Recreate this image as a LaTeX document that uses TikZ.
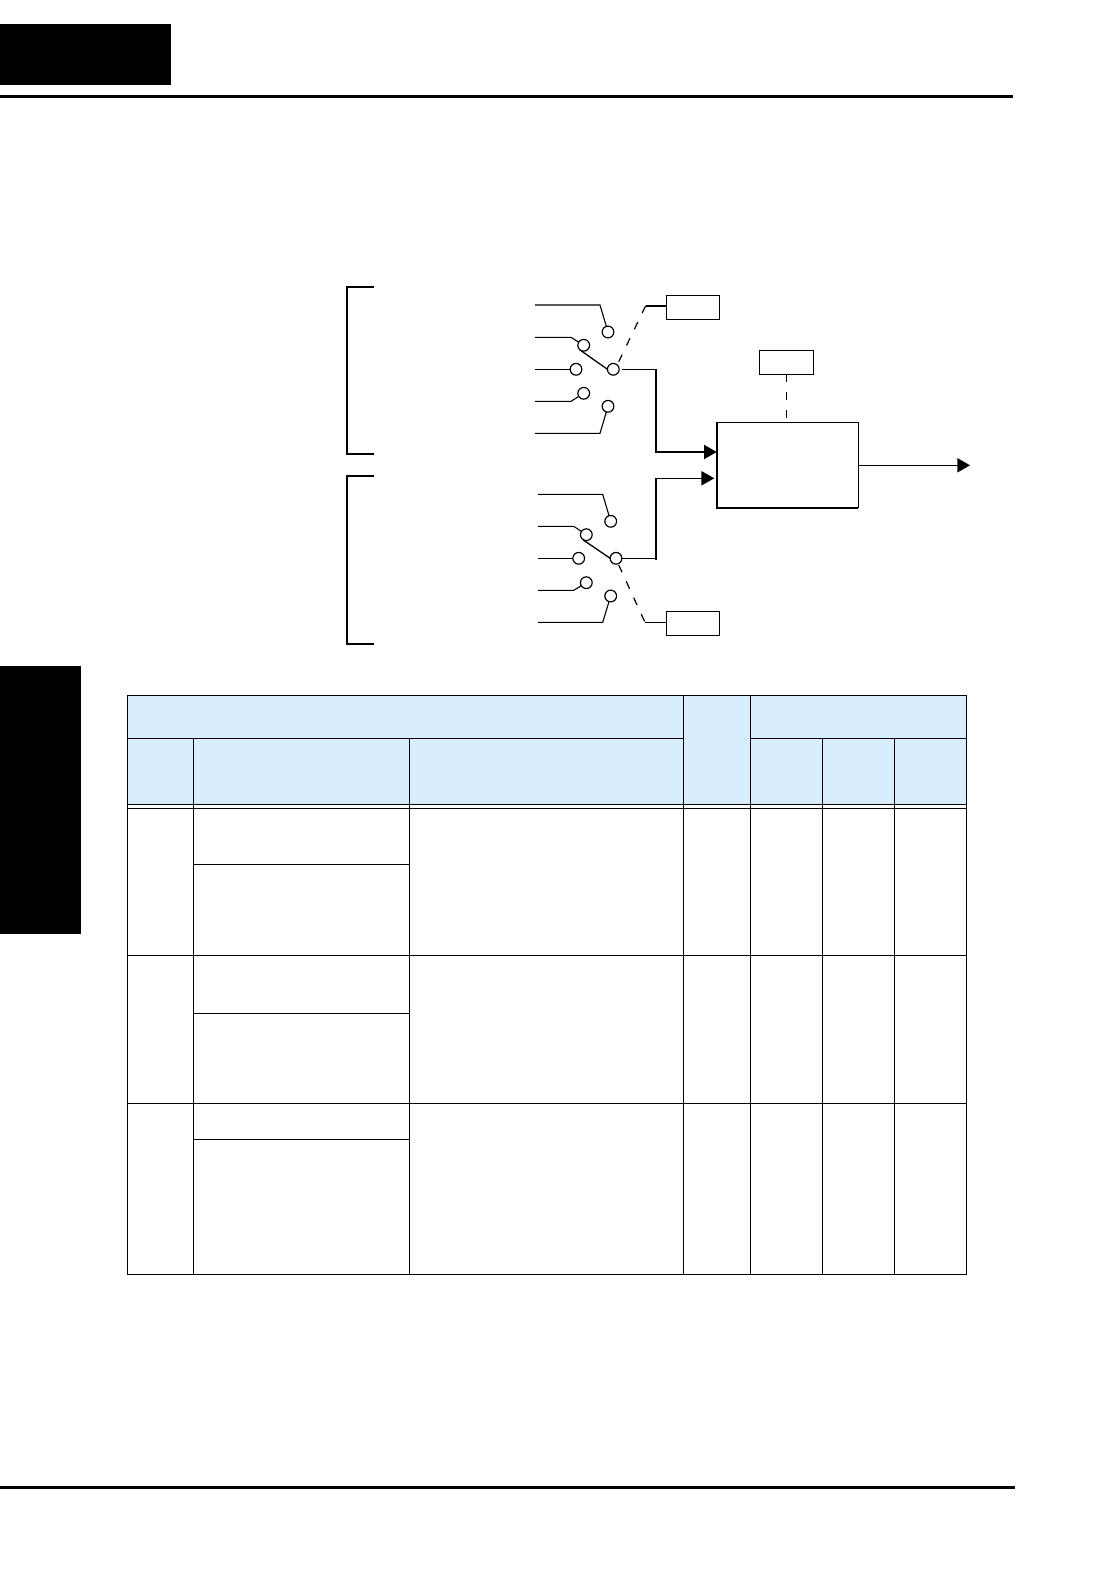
\documentclass[tikz,border=0pt]{standalone}
\usepackage{tikz}
\definecolor{hdrblue}{HTML}{D8EEFF}
\tikzset{
  x=0.75pt,y=-0.75pt,
  px/.style={line width=#1*0.75pt},
  wire/.style={px=1.1,draw=black,line join=miter},
  thickwire/.style={px=2,draw=black},
  dashwire/.style={px=1.2,draw=black,dash pattern=on 6pt off 7.5pt},
  contact/.style={circle,draw=black,fill=white,px=1.2,minimum size=8.8pt,inner sep=0pt,outer sep=0pt},
  selbox/.style={rectangle,draw=black,px=1,minimum width=40pt,minimum height=18pt,inner sep=0pt,outer sep=0pt,anchor=north west},
  tip/.style={fill=black,draw=none},
  gridline/.style={px=1,draw=black,line cap=rect},
  brk/.style={draw=black,line join=miter}
}
\begin{document}
\begin{tikzpicture}
\useasboundingbox (0,0) rectangle (1120,1584);
\fill[white] (0,0) rectangle (1120,1584);
% page furniture
\fill[black] (0,24) rectangle (171,85);
\fill[black] (0,95) rectangle (1013,98.2);
\fill[black] (0,666) rectangle (81,934);
\fill[black] (0,1485.8) rectangle (1015,1489);

% brackets
\draw[brk,px=2] (374,286.7) -- (346.7,286.7) -- (346.7,454);
\draw[brk,px=1.4] (346,454) -- (374,454);
\draw[brk,px=2] (374,475.7) -- (346.7,475.7) -- (346.7,643.7) -- (374,643.7);

% main block
\node[rectangle,draw=black,px=1.3,anchor=north west,minimum width=106.2pt,minimum height=64pt,inner sep=0pt,outer sep=0pt] (blk) at (716.7,422.3) {};
\draw[black,px=2] (blk.north west) -- (blk.south west) -- (blk.south east);
\node[selbox,minimum width=40.5pt] (sel) at (759.3,350.3) {};
\node[selbox] (selA) at (666.3,295.3) {};
\node[selbox] (selB) at (666.3,611.3) {};

% upper selector
\foreach \n/\yy in {a/305,b/337.3,c/369.3,d/401.3,e/433.3}{\coordinate (u\n) at (535,\yy);}
\node[contact] (uc1) at (608,332) {};
\node[contact] (uc2) at (583.7,345.3) {};
\node[contact] (uc3) at (576,369.3) {};
\node[contact] (uc4) at (583.7,393.3) {};
\node[contact] (uc5) at (608,406.3) {};
\node[contact] (up) at (613.3,369.3) {};
\draw[wire] (ua) -- (600,305) -- (uc1);
\draw[wire] (ub) -- (571,337.3) -- (uc2);
\draw[wire] (uc) -- (uc3);
\draw[wire] (ud) -- (571,401.3) -- (uc4);
\draw[wire] (ue) -- (600,433.3) -- (uc5);
\coordinate (uarm) at (580,350);
\draw[wire,px=1.3,shorten >=0pt] (uarm) -- (up.west);
\coordinate (uk) at (645.7,305.7);
\draw[dashwire] (618.7,361.7) -- (uk);
\draw[thickwire] (uk) -- (selA.west |- uk);
\coordinate (ut) at (656,369.3);
\draw[wire] (621.7,369.3) -- (ut);
\coordinate (um) at (656,452);
\draw[thickwire,line join=miter] (ut) -- (um) -- (706,452);
\fill[tip] (blk.west |- um) -- ++(-12.7,-7.3) -- ++(0,14.6) -- cycle;

% lower selector
\foreach \n/\yy in {a/494.3,b/526.3,c/558.3,d/590.3,e/622.3}{\coordinate (l\n) at (538,\yy);}
\node[contact] (lc1) at (610.7,521.3) {};
\node[contact] (lc2) at (586.3,534.7) {};
\node[contact] (lc3) at (578.7,558.3) {};
\node[contact] (lc4) at (586.3,582.7) {};
\node[contact] (lc5) at (610.7,596) {};
\node[contact] (lp) at (616,558.3) {};
\draw[wire] (la) -- (602.7,494.3) -- (lc1);
\draw[wire] (lb) -- (573.7,526.3) -- (lc2);
\draw[wire] (lc) -- (lc3);
\draw[wire] (ld) -- (573.7,590.3) -- (lc4);
\draw[wire] (le) -- (602.7,622.3) -- (lc5);
\coordinate (larm) at (583.3,540);
\draw[wire,px=1.3] (larm) -- (lp.west);
\coordinate (lk) at (645,622.3);
\draw[dashwire] (618.7,565) -- (lk);
\draw[wire] (lk) -- (selB.west |- lk);
\draw[wire] (lp) -- (656,558.3);
\draw[thickwire] (656,559.5) -- (656,478.3);
\draw[wire] (655,478.3) -- (703,478.3);
\fill[tip] (714.3,478.3) -- ++(-13,-7.3) -- ++(0,14.6) -- cycle;

% block links
\draw[dashwire] (sel.south) -- (blk.north -| sel.south);
\coordinate (outend) at (958,465.3);
\draw[wire] (blk.east |- outend) -- (outend);
\fill[tip] (970,465.3) -- ++(-12.7,-7.3) -- ++(0,14.6) -- cycle;

% table
\fill[hdrblue] (127.3,695.3) rectangle (966.3,804.3);
\draw[gridline] (127.3,695.3) rectangle (966.3,1274.3);
\foreach \yy in {804.3,808.3,955,1103.3}{\draw[gridline] (127.3,\yy) -- (966.3,\yy);}
\draw[gridline] (127.3,738.3) -- (683.3,738.3);
\draw[gridline] (750.3,738.3) -- (966.3,738.3);
\foreach \xx in {193.3,409.3}{\draw[gridline] (\xx,738.3) -- (\xx,1274.3);}
\foreach \xx in {683.3,750.3}{\draw[gridline] (\xx,695.3) -- (\xx,1274.3);}
\foreach \xx in {822.3,894.3}{\draw[gridline] (\xx,738.3) -- (\xx,1274.3);}
\foreach \yy in {864,1013.3,1139.3}{\draw[gridline] (193.3,\yy) -- (409.3,\yy);}
\end{tikzpicture}
\end{document}
